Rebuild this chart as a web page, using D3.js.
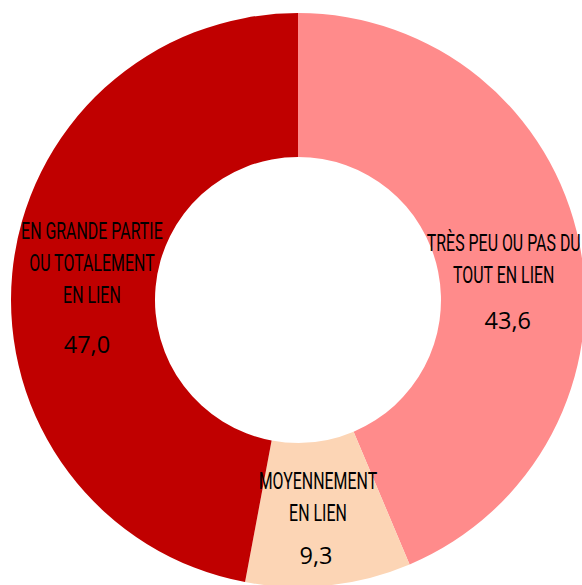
<!DOCTYPE html>
<html>
<head>
<meta charset="utf-8">
<script src="https://cdn.jsdelivr.net/npm/d3@7"></script>
<style>
  html, body { margin: 0; padding: 0; background: #fff; }
  svg { display: block; }
</style>
</head>
<body>
<svg id="chart" width="582" height="585"></svg>
<script>
// ---- data ----
const categories = [
  ["TRÈS PEU OU PAS DU", "TOUT EN LIEN"],
  ["MOYENNEMENT", "EN LIEN"],
  ["EN GRANDE PARTIE", "OU TOTALEMENT", "EN LIEN"]
];
const values = [43.6, 9.3, 47.0];
const valueLabels = ["43,6", "9,3", "47,0"];
const colors = ["#FF8B8B", "#FCD5B5", "#C00000"];

// ---- layout ----
const cx = 298, cy = 300;
const outerR = 287, innerR = 143;
const lineGap = 32;
const numGaps = [46, 43, 50];
const nudgeY = [24, 4, 7];
const nudgeX = [-5, -3, 8];
const numDX = [4, -2, -5];
const labelFont = "Roboto, 'DejaVu Sans', sans-serif";
const labelSize = 24.5;
const targetWidth = 154; // width of the longest reference label line

const svg = d3.select("#chart");
const g = svg.append("g").attr("transform", `translate(${cx},${cy})`);

const pie = d3.pie().sort(null).value(d => d)(values);
const arc = d3.arc().innerRadius(innerR).outerRadius(outerR);

g.selectAll("path.slice")
  .data(pie)
  .join("path")
  .attr("class", "slice")
  .attr("d", arc)
  .attr("fill", (d, i) => colors[i]);

// measure to derive a condensing factor
const probe = svg.append("text")
  .attr("font-family", labelFont).attr("font-size", labelSize).attr("font-weight", 400)
  .text(categories[0][0]);
const scaleX = targetWidth / probe.node().getComputedTextLength();
probe.remove();

pie.forEach((d, i) => {
  const [x, y] = arc.centroid(d);
  const lines = categories[i];
  const n = lines.length;
  const capH = 17;
  const blockH = (n - 1) * lineGap + numGaps[i] + capH;
  const top = y - blockH / 2 + capH + nudgeY[i];
  const lg = g.append("g").attr("transform", `translate(${x + nudgeX[i]},${top})`);
  lines.forEach((t, k) => {
    lg.append("text")
      .attr("transform", `translate(0,${k * lineGap}) scale(${scaleX},1)`)
      .attr("text-anchor", "middle")
      .attr("font-family", labelFont)
      .attr("font-size", labelSize)
      .attr("font-weight", 400)
      .attr("fill", "#000")
      .text(t);
  });
  lg.append("text")
    .attr("x", numDX[i])
    .attr("y", (n - 1) * lineGap + numGaps[i])
    .attr("text-anchor", "middle")
    .attr("font-family", "'Open Sans', sans-serif")
    .attr("font-size", 23.5)
    .attr("fill", "#000")
    .text(valueLabels[i]);
});
</script>
</body>
</html>
